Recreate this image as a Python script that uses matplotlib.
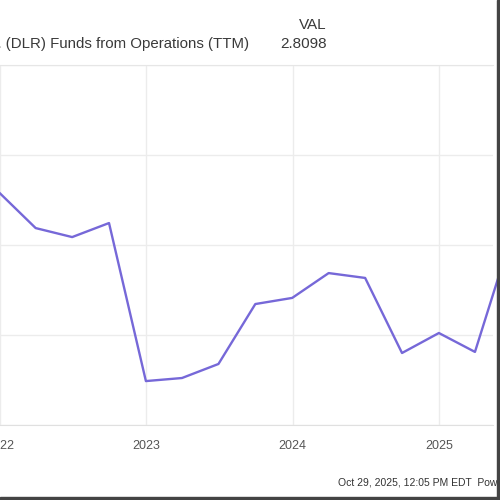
import numpy as np
import pandas as pd
import matplotlib
matplotlib.use("Agg")
from matplotlib import pyplot as plt
import matplotlib.dates as mdates
from matplotlib.patches import Rectangle

plt.rcParams['font.family'] = ['Liberation Sans', 'DejaVu Sans']

# quarterly FFO (TTM)
dates = ["2021-12-31", "2022-03-31", "2022-06-30", "2022-09-30", "2022-12-31",
         "2023-03-31", "2023-06-30", "2023-09-30", "2023-12-31",
         "2024-03-31", "2024-06-30", "2024-09-30", "2024-12-31",
         "2025-03-31", "2025-05-27"]
ffo = [3.289, 3.094, 3.044, 3.122, 2.244,
       2.261, 2.339, 2.672, 2.706,
       2.844, 2.817, 2.400, 2.511,
       2.406, 2.8098]
year_ticks = ["2022-01-01", "2023-01-01", "2024-01-01", "2025-01-01"]
year_labels = ["2022", "2023", "2024", "2025"]
y_grid = [2.0, 2.5, 3.0, 3.5, 4.0]

series_name = "Digital Realty Trust Inc. (DLR) Funds from Operations (TTM)"
last_val = "2.8098"
footer = "Oct 29, 2025, 12:05 PM EDT  Powered by YCHARTS"

x = pd.to_datetime(dates)

fig = plt.figure(figsize=(5, 5), dpi=100)
ax = fig.add_axes([0.0, 0.15, 0.986, 0.72])

ax.plot(x, ffo, color='#7668d8', lw=1.7, clip_on=False, solid_joinstyle='round')

ax.set_xlim(pd.Timestamp("2022-01-02"), pd.Timestamp("2025-05-15"))
ax.set_ylim(2.0, 4.0)

ax.set_xticks(pd.to_datetime(year_ticks))
ax.set_xticklabels(year_labels)
ax.set_yticks(y_grid)
ax.set_yticklabels([])
ax.tick_params(axis='both', length=0)
ax.tick_params(axis='x', pad=11, labelsize=9, labelcolor='#555555')
ax.grid(True, color='#ececec', lw=1)
ax.set_axisbelow(True)
for s in ax.spines.values():
    s.set_visible(False)
ax.spines['bottom'].set_visible(True)
ax.spines['bottom'].set_color('#e0e0e0')
ax.spines['top'].set_visible(True)
ax.spines['top'].set_color('#e6e6e6')

# header
fig.text(327 / 500, 1 - 25 / 500, "VAL", ha='right', va='center', fontsize=11, color='#3a3a3a')
fig.text(327 / 500, 1 - 44 / 500, last_val, ha='right', va='center', fontsize=11, color='#3a3a3a')
fig.text(249 / 500, 1 - 44 / 500, series_name, ha='right', va='center', fontsize=10.8, color='#3a3a3a')

# footer
fig.text(338 / 500, 1 - 483 / 500, footer, ha='left', va='center', fontsize=7.5, color='#333333')

# screenshot frame on right and bottom
fig.patches.append(Rectangle((497 / 500, 0), 3 / 500, 1, transform=fig.transFigure,
                             color='#444444', zorder=10))
fig.patches.append(Rectangle((0, 0), 1, 3 / 500, transform=fig.transFigure,
                             color='#444444', zorder=10))

fig.savefig("out.png", dpi=100, facecolor='white')
